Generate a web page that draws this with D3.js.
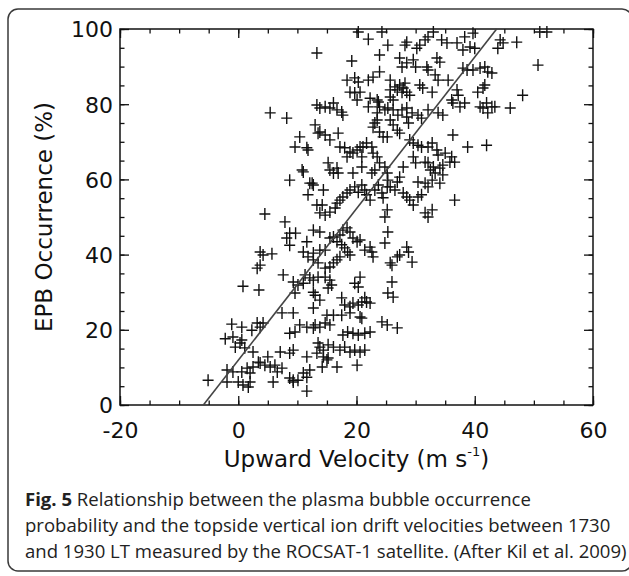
<!DOCTYPE html>
<html>
<head>
<meta charset="utf-8">
<script src="https://cdn.jsdelivr.net/npm/d3@7"></script>
<style>
  body { margin: 0; background: #fff; }
  svg { display: block; }
</style>
</head>
<body>
<div id="chart"></div>
<script>
// axis values
const xTicks = [-20, 0, 20, 40, 60];
const yTicks = [0, 20, 40, 60, 80, 100];
const xMinor = d3.range(-20, 61, 5);
const yMinor = d3.range(0, 101, 5);

// linear fit drawn in the figure, [velocity, occurrence]
const fitLine = [[-5.9, 0], [43.7, 100]];

// [upward velocity (m/s), EPB occurrence (%)]
const lowBand = [
  [7.6,34.6],[0.8,31.6],[3.5,30.6],[9.3,32.7],[10.1,31.9],[11.0,32.4],[9.6,29.8],[12.7,33.2],
  [12.7,30.0],[13.0,29.2],[7.4,24.5],[9.3,24.5],[12.7,25.8],[10.4,21.3],[11.6,20.7],[12.7,20.5],
  [8.7,19.1],[9.6,19.4],[-1.1,21.5],[0.6,20.7],[2.3,19.9],[3.2,21.8],[3.7,20.7],[4.2,21.8],
  [-2.2,17.6],[-0.9,18.1],[0.6,17.3],[-0.5,15.4],[0.3,16.5],[1.1,15.2],[2.5,14.1],[3.4,11.4],
  [5.0,12.8],[7.1,14.1],[8.7,13.8],[9.3,14.6],[11.6,12.8],[13.3,13.8],[-1.9,9.3],[-0.9,8.8],
  [0.6,8.8],[1.5,9.8],[2.0,8.5],[2.5,10.1],[3.7,11.2],[4.5,10.6],[5.4,10.1],[6.2,10.6],
  [6.6,8.8],[7.4,9.8],[8.7,7.2],[9.3,6.6],[10.1,6.6],[11.0,8.5],[11.6,7.4],[12.1,9.3],
  [-5.1,6.6],[-1.9,6.1],[0,6.1],[0.8,5.3],[1.7,4.8],[2.0,6.1],[5.9,6.1],[9.3,6.1],[11.6,3.7],
  [26.0,32.7],[25.3,29.8],[26.2,28.7],[20.6,34.0],[19.7,32.4],[20.3,31.4],[21.4,28.5],[20.9,27.4],
  [20.3,26.6],[19.4,27.1],[18.9,26.1],[18.0,26.6],[17.5,28.5],[21.7,27.4],[22.3,27.1],[13.8,27.9],
  [15.0,23.9],[16.1,23.9],[17.5,23.9],[18.9,24.5],[20.6,23.4],[20.9,23.1],[24.3,22.1],[25.2,21.3],
  [26.9,20.5],[13.0,21.3],[13.8,20.7],[14.7,21.8],[15.5,21.3],[17.7,18.6],[18.5,19.4],[19.4,19.1],
  [20.3,18.6],[21.4,19.1],[22.3,19.4],[13.5,16.5],[13.8,15.4],[14.4,14.6],[15.2,16.0],[16.1,15.4],
  [17.2,14.6],[18.0,15.4],[18.9,14.1],[19.7,14.6],[20.6,14.1],[21.4,14.6],[14.4,12.8],[15.0,12.0],
  [15.2,12.5],[14.2,10.1],[16.7,10.1],[20.1,10.6],[11.3,34.6],[12.1,33.8],[13.5,34.0],[14.7,34.0],
  [15.5,33.2],[15.8,31.9],[15.2,31.1]
];

const midBand = [
  [4.5,50.8],[7.9,48.7],[8.7,45.7],[9.7,45.7],[8.2,44.4],[8.7,42.5],[11.6,43.4],[12.7,46.5],
  [3.7,40.7],[4.2,39.9],[5.7,40.2],[3.2,36.4],[3.7,37.2],[9.6,68.6],[11.6,68.4],[11.8,67.8],
  [10.8,62.5],[8.7,59.8],[12.5,59.0],[11.8,55.9],[17.2,68.6],[18.0,68.4],[18.9,67.3],[19.4,67.0],
  [20.1,67.8],[20.6,68.6],[21.1,68.6],[21.7,69.7],[29.6,69.7],[30.4,69.1],[31.0,68.6],[32.1,68.6],
  [32.8,69.7],[33.6,67.8],[33.8,66.5],[35.0,67.0],[36.1,66.0],[38.8,68.6],[42.0,69.1],[11.0,62.0],
  [12.1,59.0],[14.4,57.2],[15.2,64.4],[15.5,62.5],[16.1,61.7],[16.7,63.0],[16.9,61.7],[18.4,66.0],
  [20.9,66.0],[22.6,68.6],[22.8,67.0],[23.5,66.0],[19.4,61.7],[20.9,63.3],[22.6,61.7],[23.1,62.5],
  [23.9,64.4],[24.8,63.3],[25.2,61.7],[25.3,59.8],[25.7,58.0],[26.5,57.2],[26.9,59.3],[27.3,60.6],
  [27.9,63.3],[29.6,66.0],[30.0,64.4],[30.4,59.3],[31.6,59.0],[32.1,58.0],[32.8,59.8],[33.3,61.7],
  [34.1,63.0],[34.6,63.8],[32.5,62.5],[34.6,61.2],[35.8,64.6],[36.6,64.6],[31.6,64.6],[32.1,64.4],
  [33.0,63.3],[34.1,59.0],[36.6,54.5],[27.9,56.4],[28.5,55.3],[29.0,54.5],[29.6,53.2],[30.4,55.3],
  [31.0,55.9],[31.6,51.1],[32.1,50.0],[32.8,51.9],[25.2,51.9],[24.8,50.0],[25.3,46.0],[24.8,43.1],
  [22.3,42.0],[22.6,40.7],[22.8,39.4],[21.4,41.2],[26.9,39.4],[27.3,39.9],[28.5,42.0],[28.8,40.7],
  [29.4,38.0],[25.7,37.8],[26.0,37.2],[12.7,58.5],[13.3,53.2],[14.2,53.2],[13.8,51.1],[14.7,50.5],
  [15.5,51.3],[16.4,52.4],[16.7,53.7],[17.2,54.5],[17.7,55.3],[18.4,56.4],[18.9,57.2],[19.7,58.0],
  [20.3,56.6],[20.9,58.5],[21.4,57.2],[21.7,55.9],[22.3,54.5],[23.1,57.2],[23.7,58.5],[24.3,56.4],
  [24.5,55.1],[25.2,58.0],[13.8,46.0],[15.5,44.4],[16.1,44.7],[16.7,43.4],[17.2,45.2],[17.7,46.5],
  [18.4,47.1],[18.9,46.0],[19.4,44.4],[20.1,43.4],[20.6,43.9],[17.5,42.6],[18.0,41.8],[18.5,40.7],
  [18.9,39.9],[11.0,40.7],[11.8,39.4],[12.7,40.4],[13.8,41.2],[14.7,41.2],[12.7,38.6],[13.5,37.8],
  [14.7,36.4],[15.5,36.7],[16.1,37.8],[16.7,38.6],[17.2,39.4]
];

const highBand = [
  [5.4,77.7],[8.2,76.3],[10.4,71.3],[13.3,93.6],[13.3,79.8],[13.0,74.5],[13.5,72.3],
  [19.2,91.5],[22.0,97.3],[24.3,99.2],[20.3,99.2],[25.3,95.7],[23.9,93.1],[28.5,96.5],[28.2,95.7],
  [30.2,94.9],[30.7,95.7],[31.6,97.1],[32.1,97.9],[33.0,99.2],[34.4,97.1],[35.3,96.3],[37.0,96.3],
  [38.0,94.4],[38.3,97.9],[39.7,98.9],[39.2,95.2],[40.0,94.9],[44.3,97.1],[44.8,96.3],[47.1,96.5],
  [43.9,94.9],[50.7,90.4],[51.0,99.2],[52.2,99.2],[27.3,92.3],[28.5,91.0],[27.7,89.9],[29.6,91.8],
  [30.0,89.9],[31.9,89.9],[32.1,89.1],[33.6,92.3],[34.1,91.2],[33.3,87.8],[33.8,86.4],[35.5,86.4],
  [38.0,89.6],[38.7,89.1],[39.7,89.1],[40.9,89.6],[41.7,89.9],[42.2,88.6],[42.9,88.3],[18.4,86.4],
  [19.7,87.0],[20.3,85.9],[22.0,86.4],[22.8,87.2],[23.9,88.6],[25.7,86.4],[26.5,84.6],[27.3,85.1],
  [28.2,85.6],[25.7,83.8],[26.9,83.8],[27.7,83.2],[18.9,83.2],[19.7,83.0],[20.6,83.2],[20.1,81.1],
  [22.3,81.6],[23.5,81.1],[23.7,80.6],[25.7,81.9],[26.2,81.1],[27.9,84.3],[28.5,83.2],[29.0,82.4],
  [30.7,85.1],[31.2,84.3],[32.8,83.2],[37.0,83.8],[37.2,82.4],[36.1,81.1],[40.5,83.2],[41.4,84.3],
  [41.7,85.1],[48.1,82.4],[13.8,79.0],[14.7,79.3],[15.5,79.0],[16.1,80.3],[16.7,78.5],[17.5,77.9],
  [17.7,77.1],[22.0,79.3],[23.5,77.7],[23.9,79.3],[24.8,78.5],[25.3,79.0],[26.2,78.5],[27.0,77.1],
  [27.7,78.5],[28.5,79.0],[29.4,77.7],[30.4,77.1],[31.0,76.3],[32.1,78.5],[33.8,77.7],[34.6,77.1],
  [36.3,80.3],[37.5,79.3],[38.3,80.3],[40.9,79.3],[41.4,79.0],[42.0,80.3],[42.9,79.3],[43.4,79.3],
  [42.2,77.7],[46.0,79.0],[13.8,72.6],[14.7,71.8],[15.5,70.5],[16.9,72.3],[22.8,73.9],[23.1,75.0],
  [23.5,75.8],[23.9,72.6],[24.5,71.3],[25.2,71.3],[25.7,75.8],[26.2,74.5],[26.9,73.1],[27.3,72.3],
  [28.5,76.6],[28.8,75.0],[29.0,70.5],[36.3,71.8]
];

const caption = [
  { bold: 'Fig. 5', text: ' Relationship between the plasma bubble occurrence' },
  { bold: '', text: 'probability and the topside vertical ion drift velocities between 1730' },
  { bold: '', text: 'and 1930 LT measured by the ROCSAT-1 satellite. (After Kil et al. 2009)' }
];

const W = 629, H = 576;
const plot = { left: 120, right: 593, top: 29, bottom: 405 };

const svg = d3.select('#chart').append('svg')
  .attr('width', W)
  .attr('height', H);

svg.append('rect')
  .attr('width', W).attr('height', H)
  .attr('fill', '#fff');

// rounded frame around figure and caption
svg.append('rect')
  .attr('x', 8).attr('y', 9)
  .attr('width', 624).attr('height', 562)
  .attr('rx', 10)
  .attr('fill', 'none')
  .attr('stroke', '#3a3a3a')
  .attr('stroke-width', 1.5);

let x = d3.scaleLinear().domain([-20, 60]).range([plot.left, plot.right]);
let y = d3.scaleLinear().domain([0, 100]).range([plot.bottom, plot.top]);

const axisFont = 'DejaVu Sans, Liberation Sans, sans-serif';

function tickAxis(axis, scale, values, size, tx, ty) {
  let g = svg.append('g')
    .attr('transform', 'translate(' + tx + ',' + ty + ')')
    .call(axis(scale).tickValues(values).tickSize(size).tickFormat(''));
  g.select('.domain').remove();
  g.selectAll('line').attr('stroke', '#111').attr('stroke-width', 1.3);
  return g;
}

// inward ticks on all four sides (minor every 5, major every 20)
tickAxis(d3.axisBottom, x, xMinor, -4.5, 0, plot.bottom);
tickAxis(d3.axisBottom, x, xTicks, -9, 0, plot.bottom);
tickAxis(d3.axisTop, x, xMinor, -4.5, 0, plot.top);
tickAxis(d3.axisTop, x, xTicks, -9, 0, plot.top);
tickAxis(d3.axisLeft, y, yMinor, -4.5, plot.left, 0);
tickAxis(d3.axisLeft, y, yTicks, -9, plot.left, 0);
tickAxis(d3.axisRight, y, yMinor, -4.5, plot.right, 0);
tickAxis(d3.axisRight, y, yTicks, -9, plot.right, 0);

// tick labels (plain hyphen for negatives, as in the figure)
let xLab = svg.append('g')
  .attr('transform', 'translate(0,' + plot.bottom + ')')
  .call(d3.axisBottom(x).tickValues(xTicks).tickSize(0).tickPadding(0)
    .tickFormat((v) => String(v)));
xLab.select('.domain').remove();
xLab.selectAll('text')
  .attr('y', 33).attr('dy', 0)
  .attr('font-family', axisFont)
  .attr('font-size', 22)
  .attr('fill', '#111');

let yLab = svg.append('g')
  .attr('transform', 'translate(' + plot.left + ',0)')
  .call(d3.axisLeft(y).tickValues(yTicks).tickSize(0).tickPadding(7)
    .tickFormat((v) => String(v)));
yLab.select('.domain').remove();
yLab.selectAll('text')
  .attr('dy', '0.36em')
  .attr('font-family', axisFont)
  .attr('font-size', 22)
  .attr('fill', '#111');

// plot frame
svg.append('rect')
  .attr('x', plot.left).attr('y', plot.top)
  .attr('width', plot.right - plot.left)
  .attr('height', plot.bottom - plot.top)
  .attr('fill', 'none')
  .attr('stroke', '#111')
  .attr('stroke-width', 1.5);

// axis titles
let xTitle = svg.append('text')
  .attr('x', (plot.left + plot.right) / 2)
  .attr('y', 467)
  .attr('text-anchor', 'middle')
  .attr('font-family', axisFont)
  .attr('font-size', 23)
  .attr('fill', '#111');
xTitle.append('tspan').text('Upward Velocity (m s');
xTitle.append('tspan').attr('font-size', 13).attr('dy', -11).text('-1');
xTitle.append('tspan').attr('dy', 11).text(')');

svg.append('text')
  .attr('transform', 'translate(52,' + (plot.top + plot.bottom) / 2 + ') rotate(-90)')
  .attr('text-anchor', 'middle')
  .attr('font-family', axisFont)
  .attr('font-size', 23)
  .attr('fill', '#111')
  .text('EPB Occurrence (%)');

// points
let vis = svg.append('g');
const allPoints = lowBand.concat(midBand, highBand);
vis.selectAll('path.pt')
  .data(allPoints)
  .join('path')
  .attr('class', 'pt')
  .attr('transform', (d) => 'translate(' + x(d[0]) + ',' + y(d[1]) + ')')
  .attr('d', 'M-5.5,0H5.5M0,-6V6')
  .attr('stroke', '#111')
  .attr('stroke-width', 1.4)
  .attr('fill', 'none');

// fit line
vis.append('path')
  .datum(fitLine)
  .attr('fill', 'none')
  .attr('stroke', '#444')
  .attr('stroke-width', 1.6)
  .attr('d', d3.line().x((d) => x(d[0])).y((d) => y(d[1])));

// caption
const capFont = 'Open Sans, Noto Sans, sans-serif';
let capLines = svg.append('g')
  .attr('font-family', capFont)
  .attr('fill', '#222');
caption.forEach((c, i) => {
  let t = capLines.append('text')
    .attr('x', 25)
    .attr('y', 506 + i * 26)
    .attr('font-size', 20);
  if (c.bold) t.append('tspan').attr('font-weight', 'bold').text(c.bold);
  t.append('tspan').text(c.text);
});
// fit font size so the second line spans ~586px as in the figure
let probe = capLines.selectAll('text').nodes()[1];
let size = 20 * 586 / probe.getComputedTextLength();
capLines.selectAll('text').attr('font-size', size);
</script>
</body>
</html>
